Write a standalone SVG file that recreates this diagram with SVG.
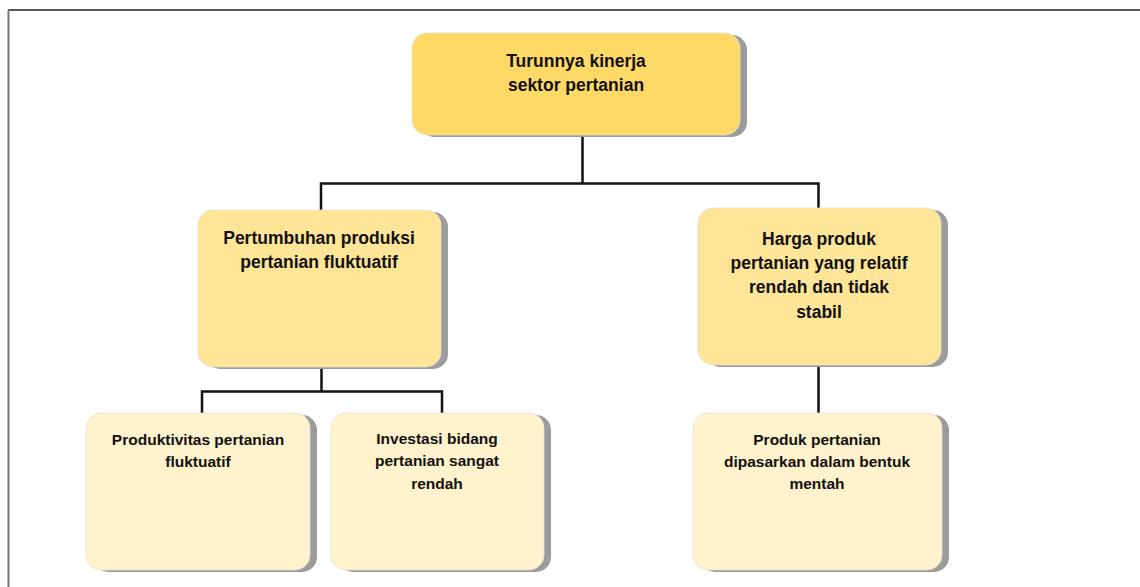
<svg xmlns="http://www.w3.org/2000/svg" width="1140" height="587" viewBox="0 0 1140 587">
<style>
.sh{fill:#9c9c9c}
.b0{fill:#FED966;stroke:#e6e0d0;stroke-width:0.8}
.b1{fill:#FFE597;stroke:#e6e0d0;stroke-width:0.8}
.b2{fill:#FFF2CC;stroke:#e6e0d0;stroke-width:0.8}
text{font-family:"Liberation Sans",Arial,sans-serif;font-weight:bold;fill:#111;text-anchor:middle}
.t1{font-size:17.5px}
.t2{font-size:15.5px}
.c{fill:none;stroke:#111;stroke-width:2.5}
</style>
<rect width="1140" height="587" fill="#fff"/>
<line x1="8" y1="10" x2="1140" y2="10" stroke="#222" stroke-width="1.5"/>
<line x1="8.5" y1="10" x2="8.5" y2="587" stroke="#777" stroke-width="2"/>
<g id="connectors">
<polyline class="c" points="582.5,135 582.5,183.5"/>
<polyline class="c" points="321,210 321,183.5 818.5,183.5 818.5,208"/>
<polyline class="c" points="321.5,367 321.5,391.5"/>
<polyline class="c" points="202,413 202,391.5 442,391.5 442,413"/>
<polyline class="c" points="818.5,365 818.5,413"/>
</g>
<g id="n1">
<rect class="sh" x="419" y="35" width="328" height="102" rx="15"/>
<rect class="b0" x="412" y="33" width="328" height="102" rx="15"/>
<text class="t1" x="576" y="67">Turunnya kinerja</text>
<text class="t1" x="576" y="91">sektor pertanian</text>
</g>
<g id="n2">
<rect class="sh" x="205" y="212" width="243" height="157" rx="15"/>
<rect class="b1" x="198" y="210" width="243" height="157" rx="15"/>
<text class="t1" x="319" y="244">Pertumbuhan produksi</text>
<text class="t1" x="319" y="268">pertanian fluktuatif</text>
</g>
<g id="n3">
<rect class="sh" x="705" y="210" width="243" height="157" rx="15"/>
<rect class="b1" x="698" y="208" width="243" height="157" rx="15"/>
<text class="t1" x="819" y="245">Harga produk</text>
<text class="t1" x="819" y="269">pertanian yang relatif</text>
<text class="t1" x="819" y="293">rendah dan tidak</text>
<text class="t1" x="819" y="318">stabil</text>
</g>
<g id="n4">
<rect class="sh" x="93" y="415" width="224" height="157" rx="15"/>
<rect class="b2" x="86" y="413" width="224" height="157" rx="15"/>
<text class="t2" x="198" y="445">Produktivitas pertanian</text>
<text class="t2" x="198" y="467">fluktuatif</text>
</g>
<g id="n5">
<rect class="sh" x="338" y="415" width="213" height="157" rx="15"/>
<rect class="b2" x="331" y="413" width="213" height="157" rx="15"/>
<text class="t2" x="437" y="444">Investasi bidang</text>
<text class="t2" x="437" y="466">pertanian sangat</text>
<text class="t2" x="437" y="489">rendah</text>
</g>
<g id="n6">
<rect class="sh" x="700" y="415" width="249" height="157" rx="15"/>
<rect class="b2" x="693" y="413" width="249" height="157" rx="15"/>
<text class="t2" x="817" y="445">Produk pertanian</text>
<text class="t2" x="817" y="467">dipasarkan dalam bentuk</text>
<text class="t2" x="817" y="489">mentah</text>
</g>
</svg>
